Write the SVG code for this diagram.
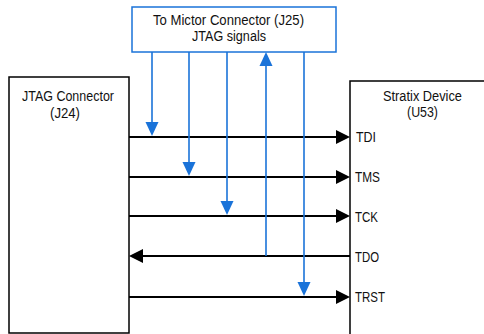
<svg xmlns="http://www.w3.org/2000/svg" width="484" height="334" viewBox="0 0 484 334">
<defs>
<style>
text{font-family:"Liberation Sans",Arial,sans-serif;font-size:15.5px;fill:#111}
.box{fill:#fff;stroke:#000;stroke-width:1.5}
.bbox{fill:#fff;stroke:#1a73d9;stroke-width:1.5}
.sig{stroke:#000;stroke-width:2;fill:none}
.tap{stroke:#1a73d9;stroke-width:1.6;fill:none}
.c{text-anchor:middle}
</style>
</defs>
<rect width="484" height="334" fill="#fff"/>
<g id="jtag-connector">
<rect class="box" x="9" y="77" width="120" height="256"/>
<text class="c" x="68" y="101" textLength="92" lengthAdjust="spacingAndGlyphs">JTAG Connector</text>
<text class="c" x="65" y="118" textLength="30" lengthAdjust="spacingAndGlyphs">(J24)</text>
</g>
<g id="stratix-device">
<rect class="box" x="350" y="81" width="150" height="270"/>
<text class="c" x="422.5" y="101" textLength="79" lengthAdjust="spacingAndGlyphs">Stratix Device</text>
<text class="c" x="422.5" y="117" textLength="31" lengthAdjust="spacingAndGlyphs">(U53)</text>
<text x="356" y="142" textLength="20" lengthAdjust="spacingAndGlyphs">TDI</text>
<text x="355" y="182" textLength="25" lengthAdjust="spacingAndGlyphs">TMS</text>
<text x="355" y="222" textLength="23" lengthAdjust="spacingAndGlyphs">TCK</text>
<text x="355" y="262" textLength="24" lengthAdjust="spacingAndGlyphs">TDO</text>
<text x="355" y="302" textLength="30" lengthAdjust="spacingAndGlyphs">TRST</text>
</g>
<g id="mictor-connector">
<rect class="bbox" x="132" y="7" width="204" height="45"/>
<text class="c" x="228.5" y="25" textLength="151" lengthAdjust="spacingAndGlyphs">To Mictor Connector (J25)</text>
<text class="c" x="229" y="41" textLength="74" lengthAdjust="spacingAndGlyphs">JTAG signals</text>
</g>
<g id="connectors">
<line class="sig" x1="129" y1="137" x2="338" y2="137"/>
<polygon points="336,130 350,137 336,144" fill="#000"/>
<line class="sig" x1="129" y1="177" x2="338" y2="177"/>
<polygon points="336,170 350,177 336,184" fill="#000"/>
<line class="sig" x1="129" y1="216" x2="338" y2="216"/>
<polygon points="336,209 350,216 336,223" fill="#000"/>
<line class="sig" x1="141" y1="256" x2="350" y2="256"/>
<polygon points="143,249 129,256 143,263" fill="#000"/>
<line class="sig" x1="129" y1="297" x2="338" y2="297"/>
<polygon points="336,290 350,297 336,304" fill="#000"/>
<line class="tap" x1="152" y1="52" x2="152" y2="124"/>
<polygon points="145.5,122 158.5,122 152,136" fill="#1a73d9"/>
<line class="tap" x1="189" y1="52" x2="189" y2="164"/>
<polygon points="182.5,162 195.5,162 189,176" fill="#1a73d9"/>
<line class="tap" x1="227" y1="52" x2="227" y2="203"/>
<polygon points="220.5,201 233.5,201 227,215" fill="#1a73d9"/>
<line class="tap" x1="266" y1="256" x2="266" y2="64"/>
<polygon points="259.5,66 272.5,66 266,52" fill="#1a73d9"/>
<line class="tap" x1="304" y1="52" x2="304" y2="284"/>
<polygon points="297.5,282 310.5,282 304,296" fill="#1a73d9"/>
</g>
</svg>
